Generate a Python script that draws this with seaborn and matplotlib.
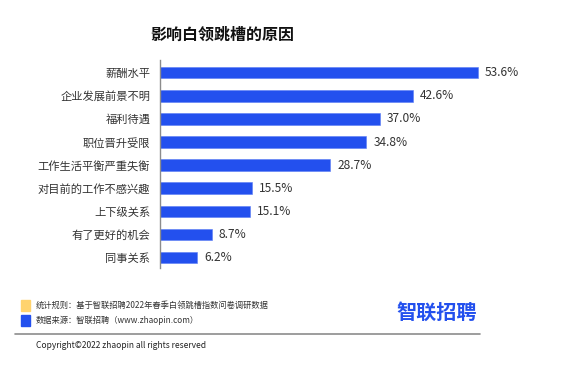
import numpy as np
import pandas as pd
import matplotlib
matplotlib.use("Agg")
import matplotlib.pyplot as plt
import seaborn as sns

# Data
reasons = ["薪酬水平", "企业发展前景不明", "福利待遇", "职位晋升受限", "工作生活平衡严重失衡",
           "对目前的工作不感兴趣", "上下级关系", "有了更好的机会", "同事关系"]
shares = [53.6, 42.6, 37.0, 34.8, 28.7, 15.5, 15.1, 8.7, 6.2]

title = "影响白领跳槽的原因"
note_rule = "统计规则：基于智联招聘2022年春季白领跳槽指数问卷调研数据"
note_source = "数据来源：智联招聘（www.zhaopin.com）"
copyright_text = "Copyright©2022 zhaopin all rights reserved"
logo_text = "智联招聘"

blue = "#2350EE"
yellow = "#FFD36E"
text_col = "#333333"

sns.set_style("white")
plt.rcParams['font.family'] = ['Noto Sans CJK SC', 'DejaVu Sans']

df = pd.DataFrame({"reason": reasons, "share": shares})

fig = plt.figure(figsize=(5.66, 3.75), dpi=100)
ax = fig.add_axes([160 / 566, (375 - 268) / 375, 356 / 566, 208 / 375])

sns.barplot(data=df, x="share", y="reason", order=reasons, color=blue,
            width=0.5, saturation=1, edgecolor="#5b7cf5", linewidth=0.4, ax=ax)

ax.set_xlim(0, 60)
ax.set_ylim(len(reasons) - 0.55, -0.55)
ax.set_xlabel("")
ax.set_ylabel("")
ax.set_xticks([])
ax.tick_params(axis="y", length=0, pad=7, labelsize=8.1, labelcolor=text_col)
for side in ["top", "right", "bottom"]:
    ax.spines[side].set_visible(False)
ax.spines["left"].set_color("#8c8c8c")
ax.spines["left"].set_linewidth(1.0)

for i, v in enumerate(shares):
    ax.text(v + 1.2, i, f"{v:.1f}%", va="center", ha="left", fontsize=8.6, color=text_col)

fig.text(150 / 566, 1 - 35 / 375, title, fontsize=11.5, fontweight="bold",
         va="center", ha="left", color="#111111")

# footer notes
fig.patches.append(plt.Rectangle((21 / 566, 1 - 311 / 375), 9 / 566, 11 / 375,
                                 transform=fig.transFigure, color=yellow))
fig.patches.append(plt.Rectangle((21 / 566, 1 - 326 / 375), 9 / 566, 11 / 375,
                                 transform=fig.transFigure, color=blue))
fig.text(36 / 566, 1 - 305.5 / 375, note_rule, fontsize=5.95, va="center", ha="left", color=text_col)
fig.text(36 / 566, 1 - 320.5 / 375, note_source, fontsize=5.95, va="center", ha="left", color=text_col)

fig.text(396 / 566, 1 - 312 / 375, logo_text, fontsize=14.5, fontweight="bold",
         va="center", ha="left", color=blue)

fig.add_artist(plt.Line2D([15 / 566, 480 / 566], [1 - 334 / 375, 1 - 334 / 375],
                          transform=fig.transFigure, color="#8c8c8c", linewidth=1.2))
fig.text(36 / 566, 1 - 345 / 375, copyright_text, fontsize=6.1, va="center", ha="left", color="#222222")

fig.savefig("out.png", dpi=100)
